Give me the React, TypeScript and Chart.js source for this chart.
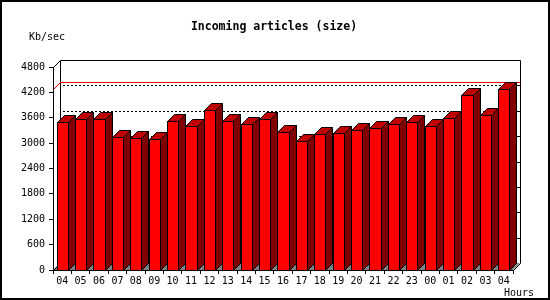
import React, { useEffect, useRef } from "react";
import { Chart, registerables } from "chart.js";

Chart.register(...registerables);

const hours = ["04","05","06","07","08","09","10","11","12","13","14","15","16","17","18","19","20","21","22","23","00","01","02","03","04"];
const kbPerSec = [3500,3560,3560,3140,3110,3090,3520,3400,3780,3520,3450,3560,3260,3040,3210,3230,3300,3350,3450,3490,3400,3590,4130,3660,4270];
const yTicks = [0,600,1200,1800,2400,3000,3600,4200,4800];
const titleText = "Incoming articles (size)";
const yUnit = "Kb/sec";
const xUnit = "Hours";

const DX = 7;
const DY = -7;
const MONO = "'DejaVu Sans Mono', 'Liberation Mono', monospace";

const p = (v: number) => Math.round(v) + 0.5;

const threeD = {
  id: "threeD",
  beforeDraw(chart: any) {
    const { ctx, width, height } = chart;
    ctx.save();
    ctx.fillStyle = "#ffffff";
    ctx.fillRect(0, 0, width, height);
    ctx.restore();
  },
  beforeDatasetsDraw(chart: any) {
    const { ctx, chartArea } = chart;
    const y = chart.scales.y;
    const L = chartArea.left, R = chartArea.right, T = chartArea.top, B = chartArea.bottom;
    ctx.save();
    ctx.lineWidth = 1;
    // floor
    ctx.fillStyle = "#808080";
    ctx.beginPath();
    ctx.moveTo(L, B);
    ctx.lineTo(R, B);
    ctx.lineTo(R + DX, B + DY);
    ctx.lineTo(L + DX, B + DY);
    ctx.closePath();
    ctx.fill();
    // dotted grid lines on back wall
    ctx.strokeStyle = "#000000";
    for (const t of yTicks) {
      if (t === 0 || t === yTicks[yTicks.length - 1]) continue;
      const yy = p(y.getPixelForValue(t) + DY);
      ctx.setLineDash([2, 2]);
      ctx.beginPath();
      ctx.moveTo(L + DX + 3, yy);
      ctx.lineTo(R + DX - 3, yy);
      ctx.stroke();
      ctx.setLineDash([]);
      ctx.beginPath();
      ctx.moveTo(R + DX - 3, yy);
      ctx.lineTo(R + DX, yy);
      ctx.stroke();
    }
    // back wall frame
    ctx.beginPath();
    ctx.moveTo(p(L + DX), p(B + DY));
    ctx.lineTo(p(L + DX), p(T + DY));
    ctx.lineTo(p(R + DX), p(T + DY));
    ctx.lineTo(p(R + DX), p(B + DY));
    ctx.stroke();
    // diagonals
    ctx.beginPath();
    ctx.moveTo(p(L), p(T));
    ctx.lineTo(p(L + DX), p(T + DY));
    ctx.moveTo(p(L), p(B));
    ctx.lineTo(p(L + DX), p(B + DY));
    ctx.moveTo(p(R), p(B));
    ctx.lineTo(p(R + DX), p(B + DY));
    ctx.stroke();
    // max line
    const maxV = Math.max(...kbPerSec);
    const my = y.getPixelForValue(maxV);
    ctx.strokeStyle = "#ff0000";
    ctx.beginPath();
    ctx.moveTo(p(L), p(my));
    ctx.lineTo(p(L + DX), p(my + DY));
    ctx.lineTo(p(R + DX), p(my + DY));
    ctx.stroke();
    ctx.restore();
  },
  afterDatasetsDraw(chart: any) {
    const { ctx } = chart;
    const meta = chart.getDatasetMeta(0);
    ctx.save();
    ctx.lineWidth = 1;
    ctx.strokeStyle = "#000000";
    ctx.lineJoin = "miter";
    for (const bar of meta.data) {
      const w = bar.width;
      const xl = Math.round(bar.x - w / 2);
      const xr = Math.round(bar.x + w / 2);
      const yt = Math.round(bar.y);
      const yb = Math.round(bar.base);
      // side
      ctx.fillStyle = "#800000";
      ctx.beginPath();
      ctx.moveTo(xr + 0.5, yt + 0.5);
      ctx.lineTo(xr + DX + 0.5, yt + DY + 0.5);
      ctx.lineTo(xr + DX + 0.5, yb + DY + 0.5);
      ctx.lineTo(xr + 0.5, yb + 0.5);
      ctx.closePath();
      ctx.fill();
      ctx.stroke();
      // top
      ctx.fillStyle = "#c00000";
      ctx.beginPath();
      ctx.moveTo(xl + 0.5, yt + 0.5);
      ctx.lineTo(xl + DX + 0.5, yt + DY + 0.5);
      ctx.lineTo(xr + DX + 0.5, yt + DY + 0.5);
      ctx.lineTo(xr + 0.5, yt + 0.5);
      ctx.closePath();
      ctx.fill();
      ctx.stroke();
      // front
      ctx.fillStyle = "#ff0000";
      ctx.fillRect(xl, yt, xr - xl, yb - yt);
      ctx.strokeRect(xl + 0.5, yt + 0.5, xr - xl, yb - yt);
    }
    ctx.restore();
  },
  afterDraw(chart: any) {
    const { ctx } = chart;
    ctx.save();
    ctx.fillStyle = "#000000";
    ctx.textBaseline = "middle";
    ctx.font = "bold 11.5px " + MONO;
    ctx.textAlign = "center";
    ctx.fillText(titleText, 274, 27);
    ctx.font = "10px " + MONO;
    ctx.textAlign = "left";
    ctx.fillText(yUnit, 29, 37);
    ctx.fillText(xUnit, 504, 293);
    ctx.strokeStyle = "#000000";
    ctx.lineWidth = 2;
    ctx.strokeRect(1, 1, 548, 298);
    ctx.restore();
  },
};

export default function App() {
  const ref = useRef<HTMLCanvasElement | null>(null);
  useEffect(() => {
    if (!ref.current) return;
    const chart = new Chart(ref.current, {
      type: "bar",
      data: {
        labels: hours,
        datasets: [
          {
            data: kbPerSec,
            backgroundColor: "rgba(0,0,0,0)",
            borderWidth: 0,
            barPercentage: 0.6,
            categoryPercentage: 1,
          },
        ],
      },
      options: {
        responsive: false,
        animation: false,
        devicePixelRatio: 1,
        layout: { padding: { left: 0, top: 67, right: 37, bottom: 0 } },
        plugins: { legend: { display: false }, tooltip: { enabled: false }, title: { display: false } },
        scales: {
          x: {
            offset: true,
            grid: { offset: true, drawOnChartArea: false, drawTicks: true, tickLength: 4, color: "#000000" },
            border: { display: true, color: "#000000", width: 1 },
            ticks: { color: "#000000", font: { family: MONO, size: 10 }, padding: 1, maxRotation: 0, autoSkip: false },
            afterFit: (s: any) => { s.height = 30; },
          },
          y: {
            min: 0,
            max: 4800,
            afterBuildTicks: (s: any) => { s.ticks = yTicks.map((v) => ({ value: v })); },
            grid: { drawOnChartArea: false, drawTicks: true, tickLength: 4, color: "#000000" },
            border: { display: true, color: "#000000", width: 1 },
            ticks: { color: "#000000", font: { family: MONO, size: 10 }, padding: 4, callback: (v: any) => String(v) },
            afterFit: (s: any) => { s.width = 53; },
          },
        },
      },
      plugins: [threeD],
    });
    return () => chart.destroy();
  }, []);
  return (
    <div style={{ position: "fixed", left: 0, top: 0, width: 550, height: 300 }}>
      <canvas ref={ref} width={550} height={300} style={{ display: "block" }} />
    </div>
  );
}
